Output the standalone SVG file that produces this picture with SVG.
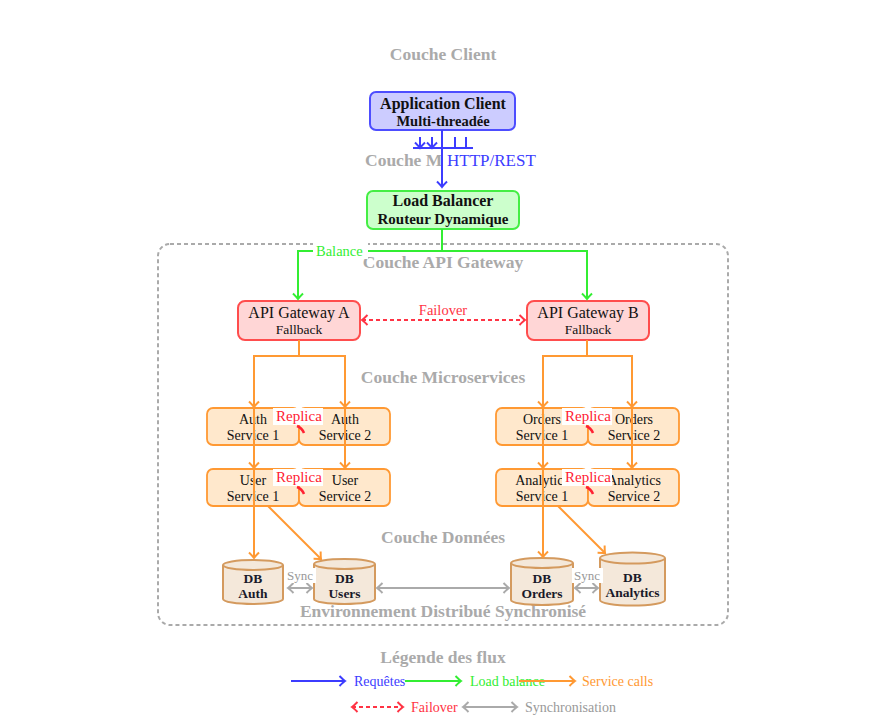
<svg xmlns="http://www.w3.org/2000/svg" width="883" height="727" viewBox="0 0 883 727">
<style>
text{font-family:"Liberation Serif","DejaVu Serif",serif;}
.layer{font-size:17.5px;font-weight:bold;fill:#aaaaaa;text-anchor:middle;}
.t{text-anchor:middle;fill:#111;}
.b{font-weight:bold;}
.svc rect{fill:#ffe8cc;stroke:#ff9933;stroke-width:1.8;}
.svc text{font-size:14px;text-anchor:middle;fill:#111;}
.db path{fill:#f4e8da;stroke:#d49a5e;stroke-width:2;}
.db text{font-size:13.5px;font-weight:bold;text-anchor:middle;fill:#1a1a2a;}
.or{stroke:#ff9933;stroke-width:2;fill:none;}
.gr{stroke:#aaaaaa;stroke-width:2;fill:none;}
.rep{font-size:15px;fill:#ff2233;}
</style>
<defs>
<marker id="mB" viewBox="-7 -7 9 14" refX="0" refY="0" markerWidth="9" markerHeight="14" markerUnits="userSpaceOnUse" orient="auto-start-reverse"><path d="M-5.5,-5 Q-1.5,-1 0,0 Q-1.5,1 -5.5,5" fill="none" stroke="#3c3cff" stroke-width="2"/></marker>
<marker id="mG" viewBox="-7 -7 9 14" refX="0" refY="0" markerWidth="9" markerHeight="14" markerUnits="userSpaceOnUse" orient="auto-start-reverse"><path d="M-5.5,-5 Q-1.5,-1 0,0 Q-1.5,1 -5.5,5" fill="none" stroke="#33ee33" stroke-width="2"/></marker>
<marker id="mO" viewBox="-7 -7 9 14" refX="0" refY="0" markerWidth="9" markerHeight="14" markerUnits="userSpaceOnUse" orient="auto-start-reverse"><path d="M-5.5,-5 Q-1.5,-1 0,0 Q-1.5,1 -5.5,5" fill="none" stroke="#ff9933" stroke-width="2"/></marker>
<marker id="mR" viewBox="-7 -7 9 14" refX="0" refY="0" markerWidth="9" markerHeight="14" markerUnits="userSpaceOnUse" orient="auto-start-reverse"><path d="M-5.5,-5 Q-1.5,-1 0,0 Q-1.5,1 -5.5,5" fill="none" stroke="#ff3344" stroke-width="2"/></marker>
<marker id="mY" viewBox="-7 -7 9 14" refX="0" refY="0" markerWidth="9" markerHeight="14" markerUnits="userSpaceOnUse" orient="auto-start-reverse"><path d="M-5.5,-5 Q-1.5,-1 0,0 Q-1.5,1 -5.5,5" fill="none" stroke="#aaaaaa" stroke-width="2"/></marker>
<clipPath id="cutM"><rect x="300" y="140" width="142" height="40"/></clipPath>
</defs>
<rect width="883" height="727" fill="#ffffff"/>

<g id="container">
<rect x="158" y="244" width="570" height="381" rx="12" fill="none" stroke="#aaaaaa" stroke-width="2" stroke-dasharray="4,3"/>
</g>

<g id="layer-labels">
<text class="layer" x="443" y="60">Couche Client</text>
<text class="layer" x="365" y="166" style="text-anchor:start" clip-path="url(#cutM)">Couche Middleware</text>
<text class="layer" x="443" y="268">Couche API Gateway</text>
<text class="layer" x="443" y="383">Couche Microservices</text>
<text class="layer" x="443" y="543">Couche Données</text>
<text class="layer" x="443" y="617">Environnement Distribué Synchronisé</text>
</g>

<g id="client">
<rect x="370" y="92" width="145" height="38" rx="6" fill="#ccccff" stroke="#4d4dff" stroke-width="2"/>
<text class="t b" x="443" y="108.5" font-size="16">Application Client</text>
<text class="t b" x="443" y="125.5" font-size="14.5">Multi-threadée</text>
</g>

<g id="loadbalancer">
<rect x="367" y="191" width="152" height="38" rx="6" fill="#ccffcc" stroke="#44ee44" stroke-width="2"/>
<text class="t b" x="443" y="206" font-size="16">Load Balancer</text>
<text class="t b" x="443" y="223.5" font-size="15">Routeur Dynamique</text>
</g>

<g id="gatewayA">
<rect x="238" y="301" width="122" height="39" rx="7" fill="#ffd6d6" stroke="#ff4d4d" stroke-width="2"/>
<text class="t" x="299" y="318" font-size="16">API Gateway A</text>
<text class="t" x="299" y="334" font-size="13.5">Fallback</text>
</g>
<g id="gatewayB">
<rect x="527" y="301" width="122" height="39" rx="7" fill="#ffd6d6" stroke="#ff4d4d" stroke-width="2"/>
<text class="t" x="588" y="318" font-size="16">API Gateway B</text>
<text class="t" x="588" y="334" font-size="13.5">Fallback</text>
</g>

<g id="auth1" class="svc"><rect x="207" y="408" width="92" height="37" rx="6"/><text x="253" y="424">Auth</text><text x="253" y="440">Service 1</text></g>
<g id="auth2" class="svc"><rect x="299" y="408" width="91" height="37" rx="6"/><text x="345" y="424">Auth</text><text x="345" y="440">Service 2</text></g>
<g id="user1" class="svc"><rect x="207" y="469" width="92" height="37" rx="6"/><text x="253" y="485">User</text><text x="253" y="501">Service 1</text></g>
<g id="user2" class="svc"><rect x="299" y="469" width="91" height="37" rx="6"/><text x="345" y="485">User</text><text x="345" y="501">Service 2</text></g>
<g id="orders1" class="svc"><rect x="496" y="408" width="92" height="37" rx="6"/><text x="542" y="424">Orders</text><text x="542" y="440">Service 1</text></g>
<g id="orders2" class="svc"><rect x="588" y="408" width="91" height="37" rx="6"/><text x="634" y="424">Orders</text><text x="634" y="440">Service 2</text></g>
<g id="analytics1" class="svc"><rect x="496" y="469" width="92" height="37" rx="6"/><text x="542" y="485">Analytics</text><text x="542" y="501">Service 1</text></g>
<g id="analytics2" class="svc"><rect x="588" y="469" width="91" height="37" rx="6"/><text x="634" y="485">Analytics</text><text x="634" y="501">Service 2</text></g>

<g id="dbauth" class="db">
<path d="M223,565 A30,5 0 0 1 283,565 V599 A30,5 0 0 1 223,599 Z"/><path d="M223,565 A30,5 0 0 0 283,565" fill="none"/>
<text x="253" y="583">DB</text><text x="253" y="598">Auth</text>
</g>
<g id="dbusers" class="db">
<path d="M314,564 A30.5,5 0 0 1 375,564 V599 A30.5,5 0 0 1 314,599 Z"/><path d="M314,564 A30.5,5 0 0 0 375,564" fill="none"/>
<text x="344.5" y="583">DB</text><text x="344.5" y="598">Users</text>
</g>
<g id="dborders" class="db">
<path d="M511,563 A31,5 0 0 1 573,563 V600 A31,5 0 0 1 511,600 Z"/><path d="M511,563 A31,5 0 0 0 573,563" fill="none"/>
<text x="542" y="583">DB</text><text x="542" y="598">Orders</text>
</g>
<g id="dbanalytics" class="db">
<path d="M600,558 A32.5,5.5 0 0 1 665,558 V600 A32.5,5.5 0 0 1 600,600 Z"/><path d="M600,558 A32.5,5.5 0 0 0 665,558" fill="none"/>
<text x="632.5" y="582">DB</text><text x="632.5" y="597">Analytics</text>
</g>

<g id="connectors">
<!-- blue request -->
<path d="M442,130 V187" stroke="#3c3cff" stroke-width="2" fill="none" marker-end="url(#mB)"/>
<path d="M413,148 H473" stroke="#3c3cff" stroke-width="2" fill="none"/>
<path d="M420,137 V148" stroke="#3c3cff" stroke-width="2" fill="none" marker-end="url(#mB)"/>
<path d="M432,137 V148" stroke="#3c3cff" stroke-width="2" fill="none" marker-end="url(#mB)"/>
<path d="M455,137 V148" stroke="#3c3cff" stroke-width="2" fill="none"/>
<path d="M466,137 V148" stroke="#3c3cff" stroke-width="2" fill="none"/>
<rect x="444" y="150" width="96" height="19" fill="#ffffff"/>
<text x="447" y="166" font-size="17" fill="#3c3cff">HTTP/REST</text>

<!-- green balance -->
<path d="M442,229 V251 H298 V299" stroke="#33ee33" stroke-width="2" fill="none" marker-end="url(#mG)"/>
<path d="M442,251 H587 V299" stroke="#33ee33" stroke-width="2" fill="none" marker-end="url(#mG)"/>
<rect x="313" y="243" width="55" height="16" fill="#ffffff"/>
<text x="316" y="256" font-size="14.5" fill="#33ee33">Balance</text>

<!-- failover -->
<path d="M362,320 H525" stroke="#ff3344" stroke-width="2" fill="none" stroke-dasharray="4,3" marker-start="url(#mR)" marker-end="url(#mR)"/>
<text x="443" y="315" font-size="14.5" fill="#ff3344" text-anchor="middle">Failover</text>

<!-- orange service calls left -->
<path class="or" d="M299,340 V356 H254 V407" marker-end="url(#mO)"/>
<path class="or" d="M299,356 H345 V407" marker-end="url(#mO)"/>
<path class="or" d="M254,408 V468" marker-end="url(#mO)"/>
<path class="or" d="M345,408 V468" marker-end="url(#mO)"/>
<path class="or" d="M254,469 V558" marker-end="url(#mO)"/>
<path class="or" d="M268,506 L321,559" marker-end="url(#mO)"/>
<!-- orange service calls right -->
<path class="or" d="M587,340 V356 H543 V407" marker-end="url(#mO)"/>
<path class="or" d="M587,356 H632 V407" marker-end="url(#mO)"/>
<path class="or" d="M543,408 V468" marker-end="url(#mO)"/>
<path class="or" d="M632,408 V468" marker-end="url(#mO)"/>
<path class="or" d="M543,469 V557" marker-end="url(#mO)"/>
<path class="or" d="M558,506 L605,553" marker-end="url(#mO)"/>

<!-- replica -->
<rect x="273" y="408" width="50" height="17" fill="#ffffff"/>
<text class="rep" x="276" y="421">Replica</text>
<path d="M297,426 Q302,428 304,433" stroke="#ff2233" stroke-width="2.5" fill="none"/>
<rect x="273" y="469" width="50" height="17" fill="#ffffff"/>
<text class="rep" x="276" y="482">Replica</text>
<path d="M297,487 Q302,489 304,494" stroke="#ff2233" stroke-width="2.5" fill="none"/>
<rect x="562" y="408" width="50" height="17" fill="#ffffff"/>
<text class="rep" x="565" y="421">Replica</text>
<path d="M586,426 Q591,428 593,433" stroke="#ff2233" stroke-width="2.5" fill="none"/>
<rect x="562" y="469" width="50" height="17" fill="#ffffff"/>
<text class="rep" x="565" y="482">Replica</text>
<path d="M586,487 Q591,489 593,494" stroke="#ff2233" stroke-width="2.5" fill="none"/>

<!-- sync -->
<path class="gr" d="M288,588 H312" marker-start="url(#mY)" marker-end="url(#mY)"/>
<rect x="285" y="568" width="31" height="15" fill="#ffffff"/>
<text x="287" y="580" font-size="13" fill="#999999">Sync</text>
<path class="gr" d="M377,588 H509" marker-start="url(#mY)" marker-end="url(#mY)"/>
<path class="gr" d="M575,588 H598" marker-start="url(#mY)" marker-end="url(#mY)"/>
<rect x="572" y="568" width="31" height="15" fill="#ffffff"/>
<text x="574" y="580" font-size="13" fill="#999999">Sync</text>
</g>

<g id="legend">
<text class="layer" x="443" y="663">Légende des flux</text>
<path d="M291,681 H345" stroke="#3c3cff" stroke-width="2" fill="none" marker-end="url(#mB)"/>
<text x="354" y="686" font-size="14" fill="#3c3cff">Requêtes</text>
<path d="M405,681 H461" stroke="#33ee33" stroke-width="2" fill="none" marker-end="url(#mG)"/>
<text x="470" y="686" font-size="14" fill="#33ee33">Load balance</text>
<path class="or" d="M519,681 H575" marker-end="url(#mO)"/>
<text x="582" y="686" font-size="14" fill="#ff9933">Service calls</text>
<path d="M352,707 H403" stroke="#ff3344" stroke-width="2" fill="none" stroke-dasharray="4,3" marker-start="url(#mR)" marker-end="url(#mR)"/>
<text x="411" y="712" font-size="14" fill="#ff3344">Failover</text>
<path class="gr" d="M463,707 H517" marker-start="url(#mY)" marker-end="url(#mY)"/>
<text x="525" y="712" font-size="14" fill="#999999">Synchronisation</text>
</g>
</svg>
